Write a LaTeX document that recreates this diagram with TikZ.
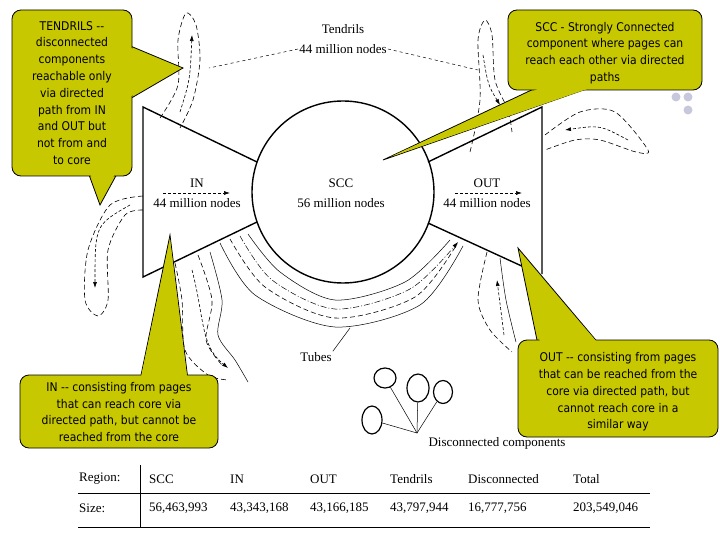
\documentclass[tikz,border=0pt]{standalone}
\usepackage{fontspec}
\setmainfont{Liberation Serif}
\newfontfamily\callfont{DejaVu Sans Condensed}
\usetikzlibrary{arrows.meta,shapes.geometric}
\definecolor{callout}{RGB}{200,200,0}
\definecolor{dotgrey}{RGB}{200,200,220}
\tikzset{
  x=1pt,y=-1pt,
  lab/.style={font=\fontsize{13}{15}\selectfont, inner sep=1pt},
  ctext/.style={font=\callfont\fontsize{12}{16.8}\selectfont, align=center, inner sep=0pt},
  cbox/.style={fill=callout, draw=black, line width=0.8pt, rounded corners=9pt},
  cptr/.style={fill=callout, draw=black, line width=0.8pt},
  thick line/.style={line width=1.4pt},
  tendril/.style={dashed, line width=0.6pt, dash pattern=on 5pt off 3pt},
  flow/.style={dashed, line width=0.6pt, dash pattern=on 3pt off 2pt, -{Latex[length=6pt,width=4pt]}},
}
\begin{document}
\begin{tikzpicture}
\useasboundingbox (0,0) rectangle (720,540);
% SCC circle and bow tie
\node[circle, draw, line width=1.4pt, minimum size=182pt, inner sep=0pt] (scc) at (343,192) {};
\draw[thick line] (257,162) -- (143,107) -- (143,277) -- (257,222);
\draw[thick line] (428,162) -- (542,107) -- (542,274);
\draw[thick line] (428,223) -- (526,268);
\node[lab] (scct) at (341,183) {SCC};
\node[lab] (sccn) at (341,203) {56 million nodes};
\node[lab] (int) at (197,183) {IN};
\node[lab] (inn) at (197,203) {44 million nodes};
\coordinate (ina) at (163,193); \coordinate (inb) at (230,193);
\draw[flow] (ina) -- (inb);
\node[lab] (outt) at (487,183) {OUT};
\node[lab] (outn) at (487,203) {44 million nodes};
\coordinate (outa) at (455,193); \coordinate (outb) at (522,193);
\draw[flow] (outa) -- (outb);
\node[lab] (tent) at (343,29) {Tendrils};
\node[lab] (tenn) at (343,49) {44 million nodes};
\coordinate (tl) at (209,68); \coordinate (tr) at (478,70);
\draw[dashed, line width=0.5pt] (tenn.west) -- (tl);
\draw[dashed, line width=0.5pt] (tenn.east) -- (tr);
% tendrils
\draw[tendril] plot[smooth] coordinates {(160,118) (178,85) (178,40) (186,13) (196,25) (200,60) (193,100) (180,128)};
\coordinate (a1) at (180,112); \coordinate (a2) at (192,35);
\draw[flow] (a1) .. controls (190,80) .. (a2);
\draw[tendril] plot[smooth] coordinates {(470,152) (480,100) (478,40) (485,20) (492,35) (495,80) (508,110) (512,132)};
\coordinate (b1) at (483,55); \coordinate (b2) at (500,105);
\draw[flow] (b1) .. controls (488,85) .. (b2);
\draw[tendril] plot[smooth] coordinates {(545,135) (580,112) (615,112) (648,150) (636,152) (600,140) (575,140) (545,150)};
\coordinate (c1) at (628,140); \coordinate (c2) at (565,130);
\draw[flow] (c1) .. controls (600,125) .. (c2);
\draw[tendril] plot[smooth] coordinates {(143,196) (110,205) (88,250) (85,300) (98,316) (108,300) (108,250) (125,215) (143,210)};
\coordinate (d1) at (130,205); \coordinate (d2) at (95,288);
\draw[flow] (d1) .. controls (95,225) .. (d2);
\draw[tendril] plot[smooth] coordinates {(175,263) (182,300) (185,350) (208,375) (228,380)};
\draw[line width=0.5pt] plot[smooth] coordinates {(210,252) (222,300) (218,335) (235,360) (248,382)};
\draw[tendril] plot[smooth] coordinates {(198,255) (212,300) (206,340) (222,365)};
\coordinate (e1) at (192,270); \coordinate (e2) at (228,368);
\draw[flow] (e1) .. controls (205,320) and (200,345) .. (e2);
% tubes
\draw[line width=0.5pt] plot[smooth] coordinates {(220,243) (255,295) (335,327) (420,305) (463,246)};
\draw[tendril] plot[smooth] coordinates {(230,239) (265,287) (335,318) (415,297) (457,244)};
\coordinate (f1) at (240,236); \coordinate (f2) at (458,242);
\draw[line width=0.5pt, dash pattern=on 6pt off 2pt on 1pt off 2pt, -{Latex[length=6pt,width=4pt]}] plot[smooth] coordinates {(f1) (272,280) (335,309) (410,289) (f2)};
\draw[line width=0.5pt] plot[smooth] coordinates {(248,234) (280,272) (335,300) (405,282) (450,240)};
\node[lab] (tubes) at (316,357) {Tubes};
\coordinate (tb) at (350,328);
\draw[line width=0.5pt] (tubes.north east) -- (tb);
% bottom right tendril
\draw[tendril] plot[smooth] coordinates {(487,252) (478,300) (490,330) (512,352)};
\draw[line width=0.5pt] plot[smooth] coordinates {(500,258) (506,300) (516,342)};
\coordinate (g1) at (504,335); \coordinate (g2) at (497,280);
\draw[flow] (g1) -- (g2);
% disconnected components
\node[ellipse, draw, line width=1.2pt, minimum width=22pt, minimum height=20pt] (dc1) at (385,378) {};
\node[ellipse, draw, line width=1.2pt, minimum width=22pt, minimum height=28pt] (dc2) at (418,388) {};
\node[ellipse, draw, line width=1.2pt, minimum width=19pt, minimum height=23pt] (dc3) at (443,392) {};
\node[ellipse, draw, line width=1.2pt, minimum width=20pt, minimum height=28pt] (dc4) at (372,420) {};
\node[lab] (dct) at (497,443) {Disconnected components};
\coordinate (dh) at (417,433);
\foreach \e in {dc1,dc2,dc3,dc4} \draw[line width=0.5pt] (dh) -- (\e);
% table
\node[lab, anchor=west] (r0) at (78,479) {Region:};
\node[lab, anchor=west] (r1) at (148,479) {SCC};
\node[lab, anchor=west] (r2) at (229,479) {IN};
\node[lab, anchor=west] (r3) at (309,479) {OUT};
\node[lab, anchor=west] (r4) at (389,479) {Tendrils};
\node[lab, anchor=west] (r5) at (467,479) {Disconnected};
\node[lab, anchor=west] (r6) at (572,479) {Total};
\node[lab, anchor=west] (s0) at (78,508) {Size:};
\node[lab, anchor=west] (s1) at (148,508) {56,463,993};
\node[lab, anchor=west] (s2) at (229,508) {43,343,168};
\node[lab, anchor=west] (s3) at (309,508) {43,166,185};
\node[lab, anchor=west] (s4) at (389,508) {43,797,944};
\node[lab, anchor=west] (s5) at (467,508) {16,777,756};
\node[lab, anchor=west] (s6) at (572,508) {203,549,046};
\draw[line width=0.7pt] (78,493) -- (650,493);
\draw[line width=0.7pt] (78,527) -- (650,527);
\draw[line width=0.7pt] (140,465) -- (140,527);
% grey dots
\fill[dotgrey] (676,97) circle (4.5pt) (688,97) circle (4.5pt) (688,110) circle (4.5pt);
% callout 1: tendrils
\draw[cptr] (128,45) -- (183,68) -- (128,100) -- cycle;
\draw[cptr] (88,172) -- (100,205) -- (118,172) -- cycle;
\draw[cbox] (12,10) rectangle (132,176);
\fill[callout] (126,46) -- (181,68) -- (126,99) -- cycle;
\fill[callout] (89,170) -- (100,202) -- (117,170) -- cycle;
\node[ctext] (t1) at (72,93) {TENDRILS --\\disconnected\\components\\reachable only\\via directed\\path from IN\\and OUT but\\not from and\\to core};
% callout 2: scc
\draw[cptr] (540,86) -- (383,160) -- (595,86) -- cycle;
\draw[cbox] (508,10) rectangle (702,90);
\fill[callout] (542,87) -- (390,157) -- (593,87) -- cycle;
\node[ctext] (t2) at (605,53) {SCC - Strongly Connected\\component where pages can\\reach each other via directed\\paths};
% callout 3: in
\draw[cptr] (140,380) -- (170,235) -- (188,380) -- cycle;
\draw[cbox] (20,375) rectangle (218,448);
\fill[callout] (141,377) -- (170,240) -- (187,377) -- cycle;
\node[ctext] (t3) at (119,412) {IN -- consisting from pages\\that can reach core via\\directed path, but cannot be\\reached from the core};
% callout 4: out
\draw[cptr] (538,345) -- (518,248) -- (600,345) -- cycle;
\draw[cbox] (518,340) rectangle (718,437);
\fill[callout] (540,342) -- (520,254) -- (597,342) -- cycle;
\node[ctext] (t4) at (618,392) {OUT -- consisting from pages\\that can be reached from the\\core via directed path, but\\cannot reach core in a\\similar way};
\end{tikzpicture}
\end{document}
